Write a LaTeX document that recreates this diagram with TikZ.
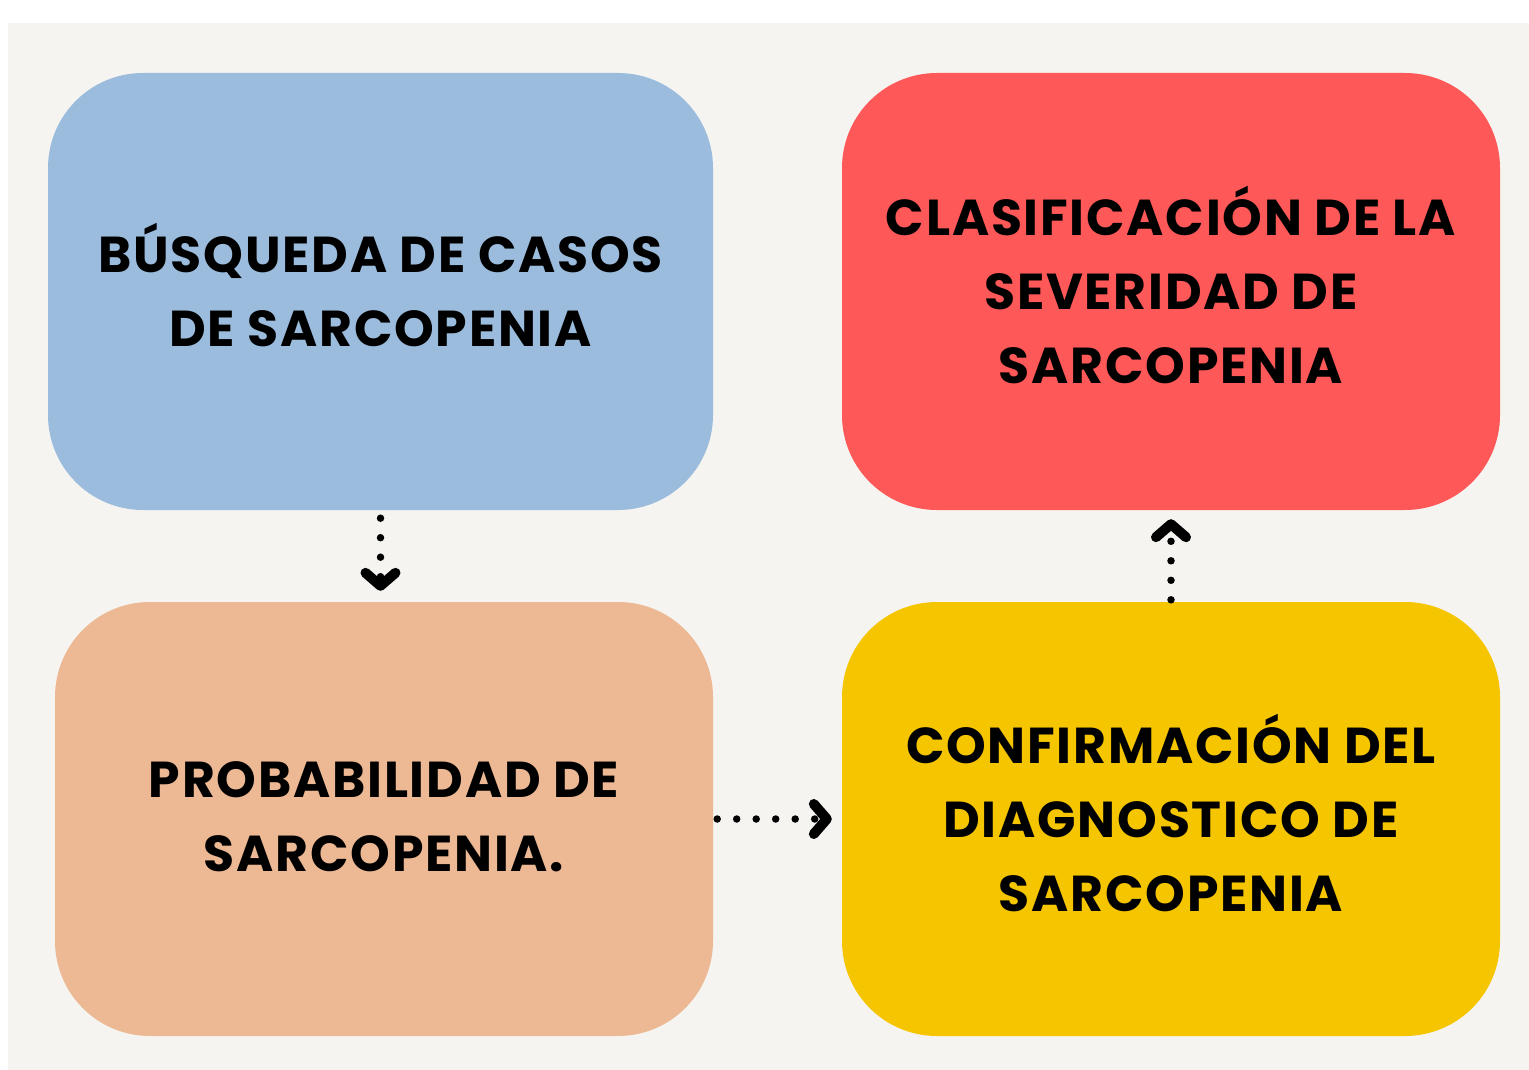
\documentclass[tikz,border=0pt]{standalone}
\usepackage{fontspec}
\newfontfamily\popfont{Poppins}[LetterSpace=3.5]
\usetikzlibrary{arrows.meta}
\definecolor{panelc}{RGB}{245,244,240}
\definecolor{bluec}{RGB}{155,188,221}
\definecolor{redc}{RGB}{255,88,88}
\definecolor{peachc}{RGB}{237,185,148}
\definecolor{yellowc}{RGB}{245,197,0}
\tikzset{
  boxnode/.style={rectangle, rounded corners=95pt, draw=none, minimum width=665pt, minimum height=437pt, inner sep=0pt},
  labelnode/.style={align=center, inner sep=0pt, font=\popfont\bfseries\fontsize{50.5}{74}\selectfont, text=black},
  conn/.style={line width=7.5pt, line cap=round, dash pattern=on 0pt off 19.5pt,
    -{Straight Barb[length=13pt, width=30pt, line width=10pt, round]}}
}
\begin{document}
\begin{tikzpicture}
\useasboundingbox (0pt,0pt) rectangle (1529pt,-1070pt);
\fill[white] (0pt,0pt) rectangle (1529pt,-1070pt);
\fill[panelc] (8pt,-23pt) rectangle (1529pt,-1070pt);
\node[boxnode, fill=bluec, minimum width=665pt] (b1) at (380.5pt,-291.5pt) {};
\node[boxnode, fill=redc, minimum width=658pt] (b2) at (1171pt,-291.5pt) {};
\node[boxnode, fill=peachc, minimum width=658pt, minimum height=434pt] (b3) at (384pt,-819pt) {};
\node[boxnode, fill=yellowc, minimum width=658pt, minimum height=434pt] (b4) at (1171pt,-819pt) {};
\node[labelnode] (t1) at ([yshift=6pt]b1.center) {BÚSQUEDA DE CASOS\\DE SARCOPENIA};
\node[labelnode] (t2) at ([yshift=6pt]b2.center) {CLASIFICACIÓN DE LA\\SEVERIDAD DE\\SARCOPENIA};
\node[labelnode] (t3) at ([yshift=2pt]b3.center) {PROBABILIDAD DE\\SARCOPENIA.};
\node[labelnode] (t4) at ([yshift=6pt]b4.center) {CONFIRMACIÓN DEL\\DIAGNOSTICO DE\\SARCOPENIA};
\draw[conn, shorten <=8pt, shorten >=11pt] (b1.south) -- (b1.south |- b3.north);
\draw[conn, shorten <=2pt, shorten >=9pt] (b4.north) -- (b4.north |- b2.south);
\draw[conn, shorten <=4pt, shorten >=10pt] (b3.east) -- (b4.west);
\end{tikzpicture}
\end{document}
